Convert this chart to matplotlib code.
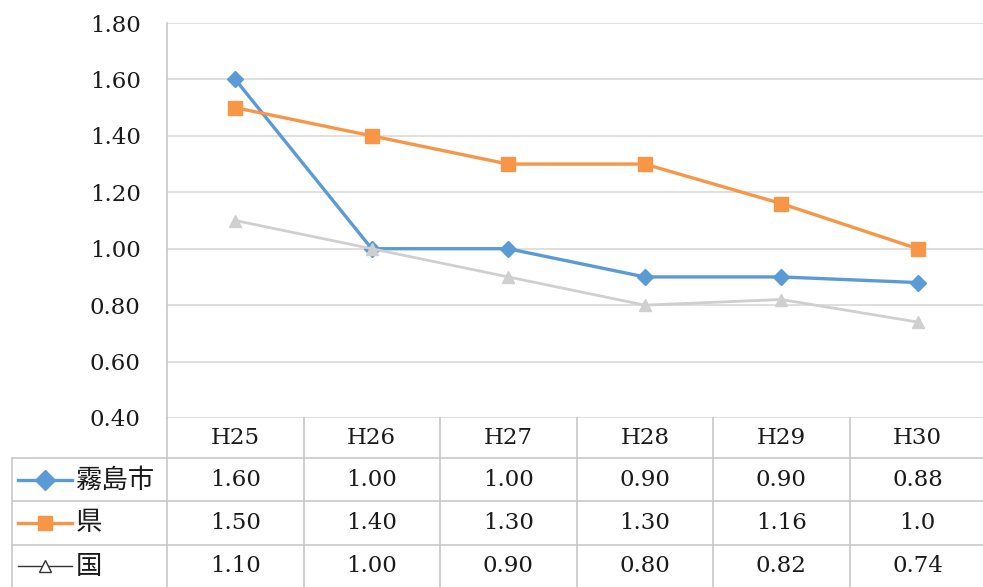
import matplotlib
matplotlib.use("Agg")
import matplotlib.pyplot as plt
from matplotlib.lines import Line2D
import matplotlib.transforms as mtransforms

categories = ["H25", "H26", "H27", "H28", "H29", "H30"]
series_names = ["霧島市", "県", "国"]
kirishima = [1.60, 1.00, 1.00, 0.90, 0.90, 0.88]
ken = [1.50, 1.40, 1.30, 1.30, 1.16, 1.00]
kuni = [1.10, 1.00, 0.90, 0.80, 0.82, 0.74]
# strings as printed in the data table
table_kirishima = ["1.60", "1.00", "1.00", "0.90", "0.90", "0.88"]
table_ken = ["1.50", "1.40", "1.30", "1.30", "1.16", "1.0"]
table_kuni = ["1.10", "1.00", "0.90", "0.80", "0.82", "0.74"]
y_ticks = [0.40, 0.60, 0.80, 1.00, 1.20, 1.40, 1.60, 1.80]

W, H = 983, 587
fig = plt.figure(figsize=(W / 100, H / 100), dpi=100)

def fx(x):
    return x / W

def fy(y):
    return 1 - y / H

left_px, right_px, top_px, bot_px = 167, 986, 23, 418
ax = fig.add_axes([fx(left_px), fy(bot_px), fx(right_px - left_px), (bot_px - top_px) / H])

colors = ["#5B9BD5", "#F79646", "#CFCFCF"]
markers = ["D", "s", "^"]
msizes = [8, 10, 9]
lws = [2.4, 2.4, 2.0]
data = [kirishima, ken, kuni]
xs = list(range(len(categories)))
for vals, c, m, ms, lw in zip(data, colors, markers, msizes, lws):
    ax.plot(xs, vals, color=c, lw=lw, marker=m, markersize=ms,
            markerfacecolor=c, markeredgecolor=c, zorder=3, clip_on=False)

ax.set_xlim(-0.5, len(categories) - 0.5)
ax.set_ylim(0.40, 1.80)
ax.set_yticks(y_ticks)
ax.set_yticklabels([f"{v:.2f}" for v in y_ticks])
ax.set_xticks([])
ax.yaxis.grid(True, color="#D9D9D9", lw=1.2)
ax.set_axisbelow(True)
for s in ["top", "right", "bottom"]:
    ax.spines[s].set_visible(False)
ax.spines["left"].set_color("#C8C8C8")
ax.spines["left"].set_linewidth(1.2)
ax.tick_params(axis="y", length=0, pad=19, labelsize=16.5, labelcolor="#1A1A1A")
for lab in ax.get_yticklabels():
    lab.set_family("DejaVu Serif")

# ---- data table ----
line_c = "#C8C8C8"
blend = mtransforms.blended_transform_factory(ax.transData, fig.transFigure)
row_lines = [458, 501, 545]
for y in row_lines:
    fig.add_artist(Line2D([fx(12), 1], [fy(y), fy(y)], color=line_c, lw=1.2))
for i in range(len(categories) + 1):
    xb = i - 0.5
    ax.add_artist(Line2D([xb, xb], [fy(418), 0], color=line_c, lw=1.2,
                         transform=blend, clip_on=False))
fig.add_artist(Line2D([fx(12), fx(12)], [fy(458), 0], color=line_c, lw=1.2))

serif = dict(family="DejaVu Serif", fontsize=16.5, color="#1A1A1A",
             ha="center", va="center")
for i, cat in enumerate(categories):
    ax.text(i, fy(438), cat, transform=blend, **serif)

row_centers = [480, 523, 566]
table_rows = [table_kirishima, table_ken, table_kuni]
for r, (strs, yc) in enumerate(zip(table_rows, row_centers)):
    for i, s in enumerate(strs):
        ax.text(i, fy(yc), s, transform=blend, **serif)

# legend keys in the row-label column
key_colors = ["#5B9BD5", "#F79646", "#333333"]
key_lw = [2.4, 2.4, 1.0]
key_ms = [10, 10, 8]
for name, c, m, ms, lw, yc in zip(series_names, key_colors, markers, key_ms, key_lw, row_centers):
    fig.add_artist(Line2D([fx(18), fx(72)], [fy(yc), fy(yc)], color=c, lw=lw))
    fig.add_artist(Line2D([fx(45)], [fy(yc)], color=c, marker=m, markersize=ms,
                          markerfacecolor=c if lw > 1 else "white", markeredgecolor=c,
                          markeredgewidth=1))
    fig.text(fx(76), fy(yc), name, family=["Noto Sans CJK JP", "DejaVu Sans"],
             fontsize=19, color="#1A1A1A", ha="left", va="center")

fig.savefig("out.png", dpi=100)
